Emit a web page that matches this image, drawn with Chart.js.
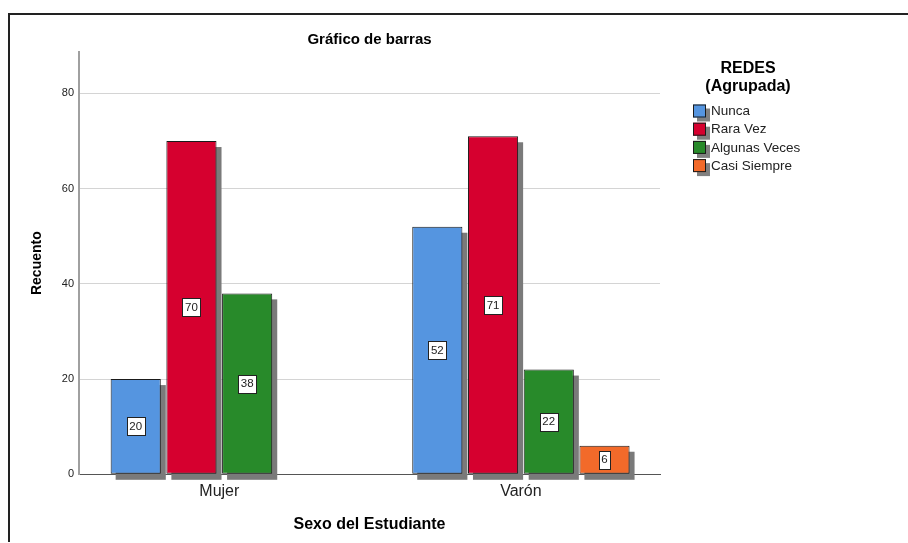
<!DOCTYPE html>
<html><head><meta charset="utf-8">
<script src="https://cdn.jsdelivr.net/npm/chart.js@4/dist/chart.umd.min.js"></script>
<style>html,body{margin:0;padding:0;background:#fff;overflow:hidden}</style>
</head><body>
<canvas id="c" width="908" height="543"></canvas>
<script>
const categories = ['Mujer', 'Varón'];
const seriesNames = ['Nunca', 'Rara Vez', 'Algunas Veces', 'Casi Siempre'];
const nunca = [20, 52];
const raraVez = [70, 71];
const algunasVeces = [38, 22];
const casiSiempre = [null, 6];
const yTickValues = [0, 20, 40, 60, 80];
const seriesColors = ['#5595e0', '#d6002f', '#288a2a', '#f26a2a'];
const seriesValues = [nunca, raraVez, algunasVeces, casiSiempre];

const FAM = "'Liberation Sans', Arial, sans-serif";

const frameAndTitle = {
  id: 'frameAndTitle',
  beforeDraw(chart) {
    const ctx = chart.ctx;
    ctx.save();
    ctx.fillStyle = '#fff';
    ctx.fillRect(0, 0, chart.width, chart.height);
    ctx.strokeStyle = '#222';
    ctx.lineWidth = 2;
    ctx.beginPath();
    ctx.moveTo(908, 14); ctx.lineTo(9, 14); ctx.lineTo(9, 542);
    ctx.stroke();
    ctx.restore();
  },
  afterDraw(chart) {
    const ctx = chart.ctx;
    const ca = chart.chartArea;
    ctx.save();
    ctx.fillStyle = '#000';
    ctx.textAlign = 'center';
    ctx.textBaseline = 'middle';
    ctx.font = 'bold 15px ' + FAM;
    ctx.fillText('Gráfico de barras', (ca.left + ca.right) / 2, 40);
    // legend
    ctx.font = 'bold 16px ' + FAM;
    ctx.fillText('REDES', 748, 69);
    ctx.fillText('(Agrupada)', 748, 87);
    const lx = 693, ly0 = 104.5, step = 18.2, sq = 13;
    ctx.textAlign = 'left';
    ctx.font = '13.5px ' + FAM;
    seriesNames.forEach((n, i) => {
      const y = ly0 + i * step;
      ctx.fillStyle = '#808080';
      ctx.fillRect(lx + 4, y + 4, sq, sq);
      ctx.fillStyle = seriesColors[i];
      ctx.fillRect(lx, y, sq, sq);
      ctx.strokeStyle = '#1a1a1a';
      ctx.lineWidth = 1;
      ctx.strokeRect(lx + 0.5, y + 0.5, sq - 1, sq - 1);
      ctx.fillStyle = '#222';
      ctx.fillText(n, lx + sq + 5, y + sq / 2 + 0.5);
    });
    ctx.restore();
  }
};

const barShadow = {
  id: 'barShadow',
  beforeDatasetsDraw(chart) {
    const ctx = chart.ctx;
    ctx.save();
    ctx.fillStyle = '#7a7a7a';
    chart.data.datasets.forEach((ds, di) => {
      const meta = chart.getDatasetMeta(di);
      meta.data.forEach((el, i) => {
        if (ds.data[i].y == null) return;
        const w = el.width;
        ctx.fillRect(el.x - w / 2 + 5, el.y + 6, w, el.base - el.y);
      });
    });
    ctx.restore();
  }
};

const valueLabels = {
  id: 'valueLabels',
  afterDatasetsDraw(chart) {
    const ctx = chart.ctx;
    ctx.save();
    ctx.font = '11.5px ' + FAM;
    ctx.textAlign = 'center';
    ctx.textBaseline = 'middle';
    chart.data.datasets.forEach((ds, di) => {
      const meta = chart.getDatasetMeta(di);
      meta.data.forEach((el, i) => {
        const v = ds.data[i].y;
        if (v == null) return;
        const cx = el.x, cy = (el.y + el.base) / 2;
        const txt = String(v);
        const tw = ctx.measureText(txt).width;
        const bw = Math.round(tw + 5), bh = 18;
        const x0 = Math.round(cx - bw / 2) + 0.5, y0 = Math.round(cy - bh / 2) + 0.5;
        ctx.fillStyle = '#fff';
        ctx.fillRect(x0, y0, bw, bh);
        ctx.strokeStyle = '#222';
        ctx.lineWidth = 1;
        ctx.strokeRect(x0, y0, bw, bh);
        ctx.fillStyle = '#222';
        ctx.fillText(txt, cx, cy + 0.5);
      });
    });
    ctx.restore();
  }
};

const datasets = seriesNames.map((name, si) => ({
  label: name,
  data: seriesValues[si].map((v, i) => ({ x: i, y: v })),
  backgroundColor: seriesColors[si],
  borderColor: '#1a1a1a',
  borderWidth: 1,
  borderSkipped: false,
  categoryPercentage: 0.739,
  barPercentage: 0.9
}));

new Chart(document.getElementById('c'), {
  type: 'bar',
  data: { datasets },
  plugins: [frameAndTitle, barShadow, valueLabels],
  options: {
    responsive: false,
    animation: false,
    devicePixelRatio: 1,
    layout: { padding: { left: 0, top: 52, right: 248, bottom: 0 } },
    plugins: { legend: { display: false }, tooltip: { enabled: false }, title: { display: false } },
    scales: {
      x: {
        type: 'linear',
        offset: false,
        min: -0.4652,
        max: 1.4612,
        afterBuildTicks: s => { s.ticks = categories.map((c, i) => ({ value: i })); },
        afterFit: s => { s.height = 68.7; },
        grid: { display: false, drawTicks: false, offset: false },
        border: { color: '#555', width: 1 },
        ticks: { padding: 8, color: '#222', font: { size: 16, family: FAM }, autoSkip: false, maxRotation: 0,
          callback: v => categories[v] !== undefined ? categories[v] : '' },
        title: { display: true, text: 'Sexo del Estudiante', color: '#000',
          font: { size: 16, weight: 'bold', family: FAM }, padding: { top: 0, bottom: 8.4 } }
      },
      y: {
        min: 0,
        max: 88.7,
        afterBuildTicks: s => { s.ticks = yTickValues.map(v => ({ value: v })); },
        afterFit: s => { s.width = 79; },
        grid: { color: c => (c.tick && c.tick.value === 0) ? 'rgba(0,0,0,0)' : '#d4d4d4', drawTicks: false, lineWidth: 1 },
        border: { color: '#a0a0a0', width: 2 },
        ticks: { padding: 5, color: '#222', font: { size: 11, family: FAM } },
        title: { display: true, text: 'Recuento', color: '#000',
          font: { size: 14, weight: 'bold', family: FAM }, padding: { top: 28.6, bottom: 0 } }
      }
    }
  }
});
</script>
</body></html>
